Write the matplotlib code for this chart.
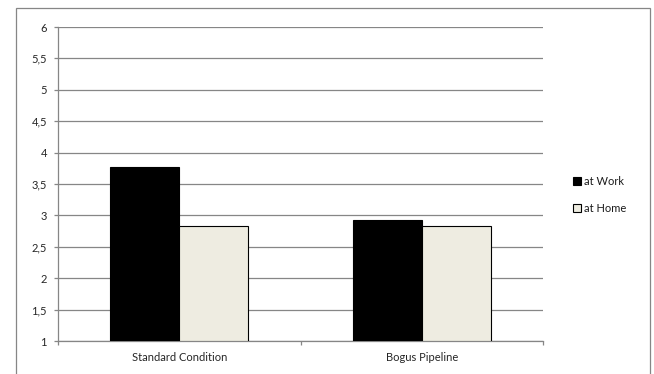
import numpy as np
import matplotlib
matplotlib.use("Agg")
import matplotlib.pyplot as plt
from matplotlib.patches import Rectangle, Patch

# values
categories = ["Standard Condition", "Bogus Pipeline"]
at_work = [3.77, 2.93]
at_home = [2.83, 2.83]
series_names = ["at Work", "at Home"]
yticks = [1, 1.5, 2, 2.5, 3, 3.5, 4, 4.5, 5, 5.5, 6]

plt.rcParams['font.family'] = ['Lato', 'DejaVu Sans']

fig = plt.figure(figsize=(6.54, 3.74), dpi=100)
ax = fig.add_axes([58 / 654, 1 - 341 / 374, (543 - 58) / 654, (341 - 27) / 374])

# outer chart border, like the Excel chart area
fig.patches.append(Rectangle((16 / 654, -0.05), (650 - 16) / 654, 1 - 8 / 374 + 0.05,
                             transform=fig.transFigure, fill=False,
                             edgecolor='#868686', linewidth=0.9))

x = np.arange(len(categories))
w = 0.285
ax.bar(x - w / 2, [v - 1 for v in at_work], w, bottom=1, color='black',
       edgecolor='black', linewidth=0.8, zorder=3)
ax.bar(x + w / 2, [v - 1 for v in at_home], w, bottom=1, color='#EEECE1',
       edgecolor='black', linewidth=0.8, zorder=3)

ax.set_xlim(-0.5, 1.5)
ax.set_ylim(1, 6)
ax.set_yticks(yticks)
ax.set_yticklabels([('%g' % t).replace('.', ',') for t in yticks])
ax.set_xticks(x)
ax.set_xticklabels(categories)
ax.set_xticks([-0.5, 0.5, 1.5], minor=True)
ax.tick_params(axis='x', which='major', length=0, pad=8)
ax.tick_params(axis='x', which='minor', length=3, color='#868686', width=0.9)
ax.tick_params(axis='y', length=3, color='#868686', width=0.9, pad=5)
ax.tick_params(labelsize=8, labelcolor='#262626')

ax.grid(axis='y', color='#868686', linewidth=0.9, zorder=0)
for s in ['top', 'right']:
    ax.spines[s].set_visible(False)
for s in ['left', 'bottom']:
    ax.spines[s].set_color('#868686')
    ax.spines[s].set_linewidth(0.9)

handles = [Patch(facecolor='black', edgecolor='black', linewidth=0.8),
           Patch(facecolor='#EEECE1', edgecolor='black', linewidth=0.8)]
fig.legend(handles, series_names, loc='center left',
           bbox_to_anchor=(563 / 654, 1 - 195 / 374), frameon=False,
           fontsize=8, handlelength=0.7, handleheight=0.7,
           handletextpad=0.3, labelspacing=1.4, labelcolor='#1a1a1a')

fig.savefig("out.png", dpi=100)
